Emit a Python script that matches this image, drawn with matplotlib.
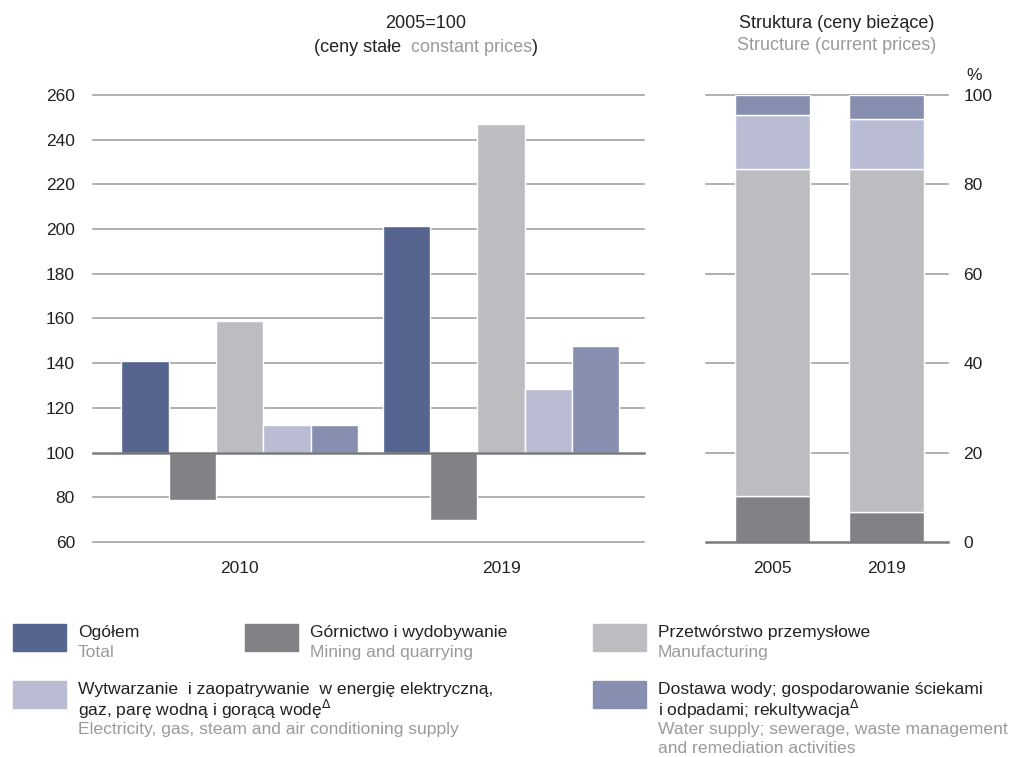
import numpy as np
import matplotlib.pyplot as plt
from matplotlib.patches import Rectangle

plt.rcParams['font.family'] = ['Liberation Sans', 'DejaVu Sans']

# dane
groups = ['2010', '2019']
series_pl = [['Ogółem'], ['Górnictwo i wydobywanie'], ['Przetwórstwo przemysłowe'],
             ['Wytwarzanie  i zaopatrywanie  w energię elektryczną,',
              'gaz, parę wodną i gorącą wodę$^{\\Delta}$'],
             ['Dostawa wody; gospodarowanie ściekami',
              'i odpadami; rekultywacja$^{\\Delta}$']]
series_en = [['Total'], ['Mining and quarrying'], ['Manufacturing'],
             ['Electricity, gas, steam and air conditioning supply'],
             ['Water supply; sewerage, waste management',
              'and remediation activities']]
idx_2010 = [141.2, 78.8, 158.8, 112.5, 112.5]
idx_2019 = [201.4, 70.0, 247.0, 128.3, 147.5]

struct_years = ['2005', '2019']
struct_mining = [10.3, 6.6]
struct_manuf = [73.1, 76.8]
struct_elec = [12.2, 11.2]
struct_water = [4.4, 5.4]

COLORS = ['#56658f', '#818286', '#bcbdc1', '#b9bcd2', '#878fb1']
GRAY_TXT = '#9a9a9a'
GRID = '#9a9a9a'
TXT = '#222222'
FS_T = 13.0   # tytuły
FS_L = 12.6   # legenda
FS_K = 12.5   # etykiety osi

fig = plt.figure(figsize=(10.2, 7.57), dpi=100)
W, H = 1020, 757

def px_axes(x0, y0, x1, y1):
    return fig.add_axes([x0 / W, 1 - y1 / H, (x1 - x0) / W, (y1 - y0) / H])

def style_axis(a, zero, ypad):
    for yv in a.get_yticks():
        if yv == zero:
            a.axhline(yv, color='#7a7a7a', lw=1.8, zorder=4, clip_on=False)
        else:
            a.axhline(yv, color=GRID, lw=1.1, zorder=1, clip_on=False)
    a.tick_params(axis='both', length=0, labelsize=FS_K, colors=TXT)
    a.tick_params(axis='y', pad=ypad)
    a.tick_params(axis='x', pad=14)
    for s in a.spines.values():
        s.set_visible(False)

# ── lewy wykres: 2005=100 ──
ax = px_axes(93, 95, 644, 542)
bw = 0.181
vals = np.array([idx_2010, idx_2019])
for i in range(5):
    for g in range(2):
        x = g + (i - 2) * bw
        ax.bar(x, vals[g, i] - 100, bottom=100, width=bw, color=COLORS[i],
               edgecolor='white', linewidth=1.0, zorder=3)
ax.set_xlim(-0.561, 1.547)
ax.set_ylim(60, 260)
ax.set_yticks(np.arange(60, 261, 20))
ax.set_xticks([0, 1])
ax.set_xticklabels(groups)
style_axis(ax, 100, 13)

# ── prawy wykres: struktura ──
ax2 = px_axes(706, 95, 948, 542)
bw2 = 0.66
xs = np.arange(2)
bottom = np.zeros(2)
for vals_s, col in zip([struct_mining, struct_manuf, struct_elec, struct_water],
                       COLORS[1:]):
    ax2.bar(xs, vals_s, bottom=bottom, width=bw2, color=col,
            edgecolor='white', linewidth=1.0, zorder=3)
    bottom += np.array(vals_s)
ax2.set_xlim(-0.58, 1.54)
ax2.set_ylim(0, 100)
ax2.set_yticks(np.arange(0, 101, 20))
ax2.yaxis.tick_right()
ax2.set_xticks(xs)
ax2.set_xticklabels(struct_years)
style_axis(ax2, 0, 11)
fig.text(974 / W, 1 - 75 / H, '%', fontsize=FS_K, ha='center', va='center', color=TXT)

# ── tytuły ──
fig.text(426 / W, 1 - 23 / H, '2005=100', fontsize=FS_T, ha='center', va='center', color=TXT)
parts = [('(ceny stałe', TXT), ('  constant prices', GRAY_TXT), (')', TXT)]
objs = [fig.text(0, 1 - 48 / H, p, fontsize=FS_T, color=c, ha='left', va='center')
        for p, c in parts]
fig.canvas.draw()
r = fig.canvas.get_renderer()
widths = [o.get_window_extent(r).width for o in objs]
x0 = 426 - sum(widths) / 2
for o, w in zip(objs, widths):
    o.set_x(x0 / W)
    x0 += w

fig.text(837 / W, 1 - 23 / H, 'Struktura (ceny bieżące)', fontsize=FS_T, ha='center',
         va='center', color=TXT)
fig.text(837 / W, 1 - 46 / H, 'Structure (current prices)', fontsize=FS_T, ha='center',
         va='center', color=GRAY_TXT)

# ── legenda ──
leg_pos = [(13, 624, 631), (245, 624, 631), (593, 624, 631),
           (13, 681, 688), (593, 681, 688)]
step = 19.3
for i, (lx, py, ty) in enumerate(leg_pos):
    fig.patches.append(Rectangle((lx / W, 1 - (py + 27) / H), 53 / W, 27 / H,
                                 transform=fig.transFigure, color=COLORS[i]))
    tx = lx + 65
    lines = [(t, TXT) for t in series_pl[i]] + [(t, GRAY_TXT) for t in series_en[i]]
    for k, (t, c) in enumerate(lines):
        yy = ty + k * step + (1 if c == GRAY_TXT else 0)
        fig.text(tx / W, 1 - yy / H, t, fontsize=FS_L, ha='left', va='center_baseline',
                 color=c)

fig.savefig('out.png', dpi=100)
